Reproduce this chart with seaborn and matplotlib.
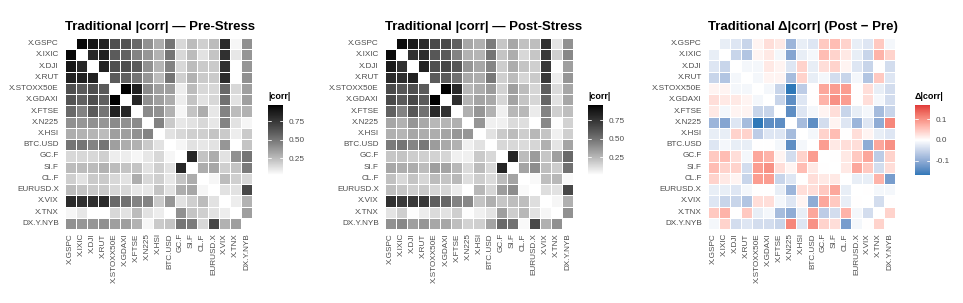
import numpy as np
import pandas as pd
import matplotlib
matplotlib.use("Agg")
import matplotlib.pyplot as plt
from matplotlib.colors import ListedColormap, to_rgb
import seaborn as sns

sns.set_theme(style="white")
plt.rcParams['font.family'] = ['Liberation Sans', 'DejaVu Sans']
plt.rcParams['axes.unicode_minus'] = False

tickers = ["X.GSPC", "X.IXIC", "X.DJI", "X.RUT", "X.STOXX50E", "X.GDAXI",
           "X.FTSE", "X.N225", "X.HSI", "BTC.USD", "GC.F", "SI.F", "CL.F",
           "EURUSD.X", "X.VIX", "X.TNX", "DX.Y.NYB"]

# |corr| above the diagonal, row by row (row i holds columns i+1 .. 16)
pre_upper = [
    [0.95, 0.90, 0.85, 0.65, 0.63, 0.55, 0.40, 0.30, 0.50, 0.15, 0.25, 0.18, 0.25, 0.80, 0.05, 0.40],
    [0.82, 0.85, 0.60, 0.58, 0.45, 0.38, 0.28, 0.50, 0.15, 0.25, 0.12, 0.22, 0.78, 0.10, 0.38],
    [0.85, 0.65, 0.65, 0.60, 0.40, 0.27, 0.45, 0.15, 0.25, 0.20, 0.20, 0.78, 0.02, 0.38],
    [0.60, 0.58, 0.50, 0.38, 0.25, 0.50, 0.18, 0.28, 0.20, 0.20, 0.80, 0.02, 0.40],
    [0.97, 0.85, 0.42, 0.35, 0.35, 0.08, 0.25, 0.15, 0.15, 0.55, 0.15, 0.35],
    [0.82, 0.40, 0.35, 0.30, 0.08, 0.22, 0.12, 0.15, 0.52, 0.12, 0.35],
    [0.42, 0.40, 0.28, 0.05, 0.22, 0.30, 0.10, 0.45, 0.25, 0.28],
    [0.45, 0.20, 0.10, 0.12, 0.15, 0.10, 0.45, 0.12, 0.05],
    [0.12, 0.15, 0.18, 0.18, 0.22, 0.20, 0.08, 0.20],
    [0.05, 0.12, 0.10, 0.12, 0.38, 0.02, 0.22],
    [0.82, 0.22, 0.30, 0.12, 0.40, 0.50],
    [0.30, 0.32, 0.18, 0.22, 0.48],
    [0.05, 0.25, 0.18, 0.15],
    [0.12, 0.12, 0.68],
    [0.08, 0.28],
    [0.35],
]

post_upper = [
    [0.93, 0.87, 0.80, 0.66, 0.66, 0.57, 0.31, 0.28, 0.47, 0.20, 0.31, 0.22, 0.23, 0.77, 0.10, 0.39],
    [0.77, 0.78, 0.61, 0.60, 0.44, 0.27, 0.26, 0.49, 0.21, 0.29, 0.14, 0.20, 0.73, 0.17, 0.42],
    [0.84, 0.64, 0.67, 0.61, 0.37, 0.31, 0.43, 0.18, 0.29, 0.21, 0.17, 0.73, 0.02, 0.34],
    [0.59, 0.59, 0.51, 0.30, 0.29, 0.48, 0.17, 0.24, 0.15, 0.19, 0.73, 0.07, 0.37],
    [0.96, 0.80, 0.25, 0.29, 0.35, 0.16, 0.34, 0.24, 0.15, 0.58, 0.13, 0.31],
    [0.77, 0.26, 0.32, 0.30, 0.15, 0.32, 0.21, 0.15, 0.55, 0.11, 0.31],
    [0.28, 0.37, 0.27, 0.06, 0.25, 0.25, 0.08, 0.44, 0.17, 0.23],
    [0.37, 0.06, 0.06, 0.13, 0.12, 0.01, 0.42, 0.02, 0.16],
    [0.11, 0.19, 0.24, 0.18, 0.25, 0.21, 0.06, 0.17],
    [0.14, 0.14, 0.13, 0.15, 0.28, 0.10, 0.32],
    [0.82, 0.24, 0.35, 0.20, 0.34, 0.54],
    [0.32, 0.40, 0.23, 0.18, 0.51],
    [0.03, 0.23, 0.25, 0.03],
    [0.12, 0.11, 0.67],
    [0.04, 0.28],
    [0.39],
]


def to_matrix(upper):
    """Build a symmetric frame with an empty diagonal."""
    n = len(tickers)
    m = np.full((n, n), np.nan)
    for i, row in enumerate(upper):
        for k, v in enumerate(row):
            j = i + 1 + k
            m[i, j] = v
            m[j, i] = v
    return pd.DataFrame(m, index=tickers, columns=tickers)


pre = to_matrix(pre_upper)
post = to_matrix(post_upper)
delta = post - pre

# --- colour ramps interpolated in CIELAB (like ggplot's gradients) ---
WHITE_REF = np.array([0.95047, 1.0, 1.08883])
M_RGB2XYZ = np.array([[0.4124, 0.3576, 0.1805],
                      [0.2126, 0.7152, 0.0722],
                      [0.0193, 0.1192, 0.9505]])
M_XYZ2RGB = np.linalg.inv(M_RGB2XYZ)


def rgb_to_lab(c):
    c = np.asarray(c, float)
    lin = np.where(c <= 0.04045, c / 12.92, ((c + 0.055) / 1.055) ** 2.4)
    xyz = M_RGB2XYZ @ lin / WHITE_REF
    f = np.where(xyz > 0.008856, np.cbrt(xyz), 7.787 * xyz + 16 / 116)
    return np.array([116 * f[1] - 16, 500 * (f[0] - f[1]), 200 * (f[1] - f[2])])


def lab_to_rgb(lab):
    L, a, b = lab
    fy = (L + 16) / 116
    f = np.array([fy + a / 500, fy, fy - b / 200])
    xyz = np.where(f ** 3 > 0.008856, f ** 3, (f - 16 / 116) / 7.787)
    lin = M_XYZ2RGB @ (xyz * WHITE_REF)
    lin = np.clip(lin, 0, 1)
    c = np.where(lin <= 0.0031308, 12.92 * lin,
                 1.055 * lin ** (1 / 2.4) - 0.055)
    return np.clip(c, 0, 1)


def lab_cmap(colors, n=256):
    labs = [rgb_to_lab(to_rgb(c)) for c in colors]
    pos = np.linspace(0, 1, len(colors))
    out = []
    for t in np.linspace(0, 1, n):
        k = min(np.searchsorted(pos, t, side="right") - 1, len(colors) - 2)
        u = (t - pos[k]) / (pos[k + 1] - pos[k])
        out.append(lab_to_rgb(labs[k] * (1 - u) + labs[k + 1] * u))
    return ListedColormap(out)


TXT = "#4d4d4d"
gray_cmap = lab_cmap(["#ffffff", "#000000"])
div_cmap = lab_cmap(["#2f78b8", "#ffffff", "#e0393a"])


def draw(fig, ax_rect, cb_rect, data, cmap, vmin, vmax, ticks, fmt, title,
         cb_title):
    ax = fig.add_axes(ax_rect)
    cax = fig.add_axes(cb_rect)
    sns.heatmap(data, ax=ax, cbar_ax=cax, cmap=cmap, vmin=vmin, vmax=vmax,
                linewidths=0.6, linecolor="white",
                xticklabels=True, yticklabels=True)
    ax.set_facecolor("white")
    ax.set_xlabel("")
    ax.set_ylabel("")
    ax.tick_params(length=0, labelsize=5.9, colors=TXT, pad=3)
    ax.tick_params(axis="y", pad=4.5)
    ax.tick_params(axis="x", rotation=90)
    ax.tick_params(axis="y", rotation=0)
    ax.set_title(title, loc="left", fontsize=9.5, fontweight="bold", pad=6,
                 color="black")
    cbar = ax.collections[0].colorbar
    cbar.outline.set_visible(False)
    cbar.set_ticks(ticks)
    cbar.set_ticklabels([fmt % t for t in ticks])
    cax.tick_params(length=0, labelsize=5.9, colors=TXT, pad=4)
    for t in ticks:
        cax.axhline(t, xmin=0, xmax=0.2, color="white", lw=0.6)
        cax.axhline(t, xmin=0.8, xmax=1, color="white", lw=0.6)
    cax.text(0, 1.06, cb_title, transform=cax.transAxes, ha="left",
             va="bottom", fontsize=6.5, fontweight="bold", color="black")
    return ax


fig = plt.figure(figsize=(9.63, 3.03), dpi=100)

W, H = 963.0, 303.0


def rect(x0, y0, x1, y1):
    return [x0 / W, 1 - y1 / H, (x1 - x0) / W, (y1 - y0) / H]


off_pre = pre.values[~np.isnan(pre.values)]
off_post = post.values[~np.isnan(post.values)]
lim = np.nanmax(np.abs(delta.values))

draw(fig, rect(65, 38, 252, 229), rect(268, 105, 283, 175), pre, gray_cmap,
     off_pre.min(), off_pre.max(), [0.25, 0.5, 0.75], "%.2f",
     "Traditional |corr| \u2014 Pre-Stress", "|corr|")
draw(fig, rect(385, 38, 573, 229), rect(588, 105, 603, 175), post, gray_cmap,
     off_post.min(), off_post.max(), [0.25, 0.5, 0.75], "%.2f",
     "Traditional |corr| \u2014 Post-Stress", "|corr|")
draw(fig, rect(708, 38, 895, 229), rect(915, 105, 930, 175), delta, div_cmap,
     -lim, lim, [-0.1, 0.0, 0.1], "%.1f",
     "Traditional \u0394|corr| (Post \u2212 Pre)", "\u0394|corr|")

fig.savefig("out.png", dpi=100)
